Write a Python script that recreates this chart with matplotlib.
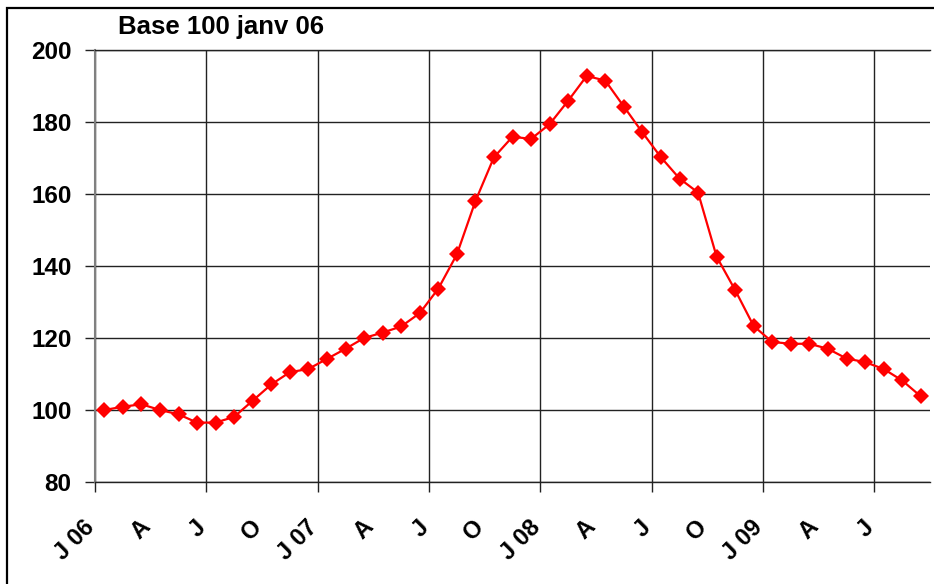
import numpy as np
import matplotlib
matplotlib.use("Agg")
import matplotlib.pyplot as plt
from matplotlib.patches import Rectangle
from matplotlib.transforms import ScaledTranslation

# Index, base 100 = January 2006, monthly from Jan 06 to Sep 09
values = [
    100.0, 100.9, 101.6, 100.0, 98.8, 96.5, 96.5, 98.1, 102.6, 107.1,
    110.5, 111.4, 114.2, 117.0, 120.0, 121.5, 123.2, 126.9, 133.7, 143.2,
    158.0, 170.2, 175.9, 175.3, 179.4, 185.9, 192.8, 191.5, 184.3, 177.1,
    170.2, 164.3, 160.4, 142.6, 133.3, 123.3, 118.9, 118.4, 118.4, 117.0,
    114.3, 113.3, 111.4, 108.2, 103.8,
]
month_labels = ["J 06", "A", "J", "O", "J 07", "A", "J", "O",
                "J 08", "A", "J", "O", "J 09", "A", "J"]
y_ticks = [80, 100, 120, 140, 160, 180, 200]
title = "Base 100 janv 06"

plt.rcParams['font.family'] = ['Liberation Sans', 'DejaVu Sans']

fig = plt.figure(figsize=(9.34, 5.84), dpi=100)
ax = fig.add_axes([95 / 934, 1 - 482 / 584, 835 / 934, 432 / 584])

# one point per month, centred in its month slot
x = np.arange(len(values)) + 0.5
ax.plot(x, values, color="#ff0000", linewidth=1.6, marker="D",
        markersize=8.5, markeredgewidth=0, clip_on=False, zorder=3)

ax.set_xlim(0, len(values))
ax.set_ylim(y_ticks[0], y_ticks[-1])
ax.set_yticks(y_ticks)
ax.set_yticklabels([str(v) for v in y_ticks], fontsize=17.5, fontweight="bold")

# ticks + gridlines every 6 months, slanted labels every quarter
ax.set_xticks(np.arange(0, len(values), 6))
ax.tick_params(axis="x", direction="out", length=7, width=1,
               color="#222222", labelbottom=False)
ax.tick_params(axis="y", direction="out", length=7, width=1, pad=10,
               color="#222222")

label_pos = np.arange(0, len(values), 3)
offset = ScaledTranslation(-12 / 100, -33.6 / 100, fig.dpi_scale_trans)
for pos, lab in zip(label_pos, month_labels):
    ax.text(pos, 0, lab, transform=ax.get_xaxis_transform() + offset,
            fontsize=17, fontweight="bold", rotation=45, ha="right",
            va="top", rotation_mode="anchor", clip_on=False)

ax.grid(True, which="major", color="#222222", linewidth=1)
ax.set_axisbelow(True)
ax.spines["right"].set_visible(False)
for s in ["top", "bottom"]:
    ax.spines[s].set_color("#222222")
    ax.spines[s].set_linewidth(1)
ax.spines["left"].set_color("#808080")
ax.spines["left"].set_linewidth(1.5)

fig.text(118 / 934, 1 - 27 / 584, title, fontsize=18.5, fontweight="bold",
         va="center", ha="left")

# frame around the chart
fig.add_artist(Rectangle((7 / 934, -0.1), 1.2, 1.1 - 8 / 584, fill=False,
                         edgecolor="black", linewidth=1.6,
                         transform=fig.transFigure, clip_on=False))

fig.savefig("out.png", dpi=100)
